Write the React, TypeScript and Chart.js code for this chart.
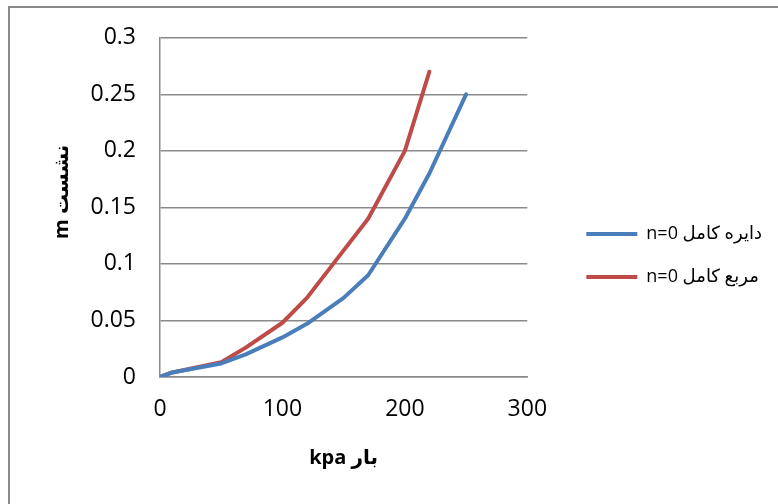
import React, { useEffect, useRef } from "react";
import { Chart, registerables } from "chart.js";

Chart.register(...registerables);

const circleLoads = [0, 10, 50, 70, 100, 120, 150, 170, 200, 220, 250];
const circleSettle = [0, 0.004, 0.012, 0.02, 0.035, 0.047, 0.07, 0.09, 0.14, 0.18, 0.25];
const squareLoads = [0, 10, 50, 70, 100, 120, 150, 170, 200, 220];
const squareSettle = [0, 0.004, 0.013, 0.026, 0.048, 0.07, 0.112, 0.14, 0.2, 0.27];
const seriesNames = ["n=0 دایره کامل", "n=0 مربع کامل"];
const xTitle = "kpa بار";
const yTitle = "\u00A0\u00A0\u00A0\u00A0\u00A0\u00A0m نشست";

const FONT = "'Open Sans', 'DejaVu Sans', sans-serif";

export default function App() {
  const ref = useRef<HTMLCanvasElement | null>(null);
  useEffect(() => {
    if (!ref.current) return;
    const chart = new Chart(ref.current, {
      type: "line",
      data: {
        datasets: [
          {
            label: seriesNames[0],
            data: circleLoads.map((x, i) => ({ x, y: circleSettle[i] })),
            borderColor: "#4a7ebb",
            backgroundColor: "#4a7ebb",
            borderWidth: 4,
            borderCapStyle: "round",
            borderJoinStyle: "round",
            pointRadius: 0,
            tension: 0,
          },
          {
            label: seriesNames[1],
            data: squareLoads.map((x, i) => ({ x, y: squareSettle[i] })),
            borderColor: "#be4b48",
            backgroundColor: "#be4b48",
            borderWidth: 4,
            borderCapStyle: "round",
            borderJoinStyle: "round",
            pointRadius: 0,
            tension: 0,
          },
        ],
      },
      options: {
        responsive: false,
        animation: false,
        devicePixelRatio: 1,
        layout: { padding: { top: 35, bottom: 28, left: 0, right: 6 } },
        plugins: {
          tooltip: { enabled: false },
          legend: {
            position: "right",
            maxWidth: 400,
            labels: {
              usePointStyle: true,
              pointStyle: "line",
              pointStyleWidth: 51,
              padding: 25,
              color: "#000",
              font: { family: FONT, size: 18 },
            },
          },
        },
        scales: {
          x: {
            type: "linear",
            min: 0,
            max: 300,
            ticks: {
              stepSize: 100,
              padding: 19,
              color: "#000",
              font: { family: FONT, size: 23 },
            },
            grid: { display: false, drawTicks: false },
            border: { display: true, color: "#8a8a8a", width: 1.5 },
            title: {
              display: true,
              text: xTitle,
              color: "#000",
              font: { family: FONT, size: 20, weight: "bold" },
              padding: { top: 0, bottom: 6 },
            },
            afterFit: (s: any) => {
              s.height = 99;
            },
          },
          y: {
            type: "linear",
            min: 0,
            max: 0.3,
            ticks: {
              stepSize: 0.05,
              padding: 24,
              color: "#000",
              font: { family: FONT, size: 23 },
              callback: (v: any) => String(Math.round(Number(v) * 100) / 100),
            },
            grid: { display: true, drawTicks: false, color: "#8a8a8a", lineWidth: 1.5 },
            border: { display: true, color: "#8a8a8a", width: 1.5 },
            title: {
              display: true,
              text: yTitle,
              color: "#000",
              font: { family: FONT, size: 20, weight: "bold" },
              padding: { top: 50, bottom: 0 },
            },
            afterFit: (s: any) => {
              s.width = 160;
            },
          },
          spacer: {
            type: "linear",
            position: "right",
            display: true,
            grid: { display: false, drawTicks: false },
            ticks: { display: false },
            border: { display: false },
            afterFit: (s: any) => {
              s.width = 34;
            },
          },
        },
      },
    });
    return () => chart.destroy();
  }, []);

  return (
    <div style={{ position: "fixed", left: 0, top: 0, width: 778, height: 504, background: "#fff", overflow: "hidden" }}>
      <div
        style={{
          position: "absolute",
          left: 8,
          top: 6,
          width: 820,
          height: 540,
          border: "2px solid #8a8a8a",
          boxSizing: "border-box",
        }}
      />
      <canvas ref={ref} width={778} height={504} style={{ position: "absolute", left: 0, top: 0 }} />
    </div>
  );
}
